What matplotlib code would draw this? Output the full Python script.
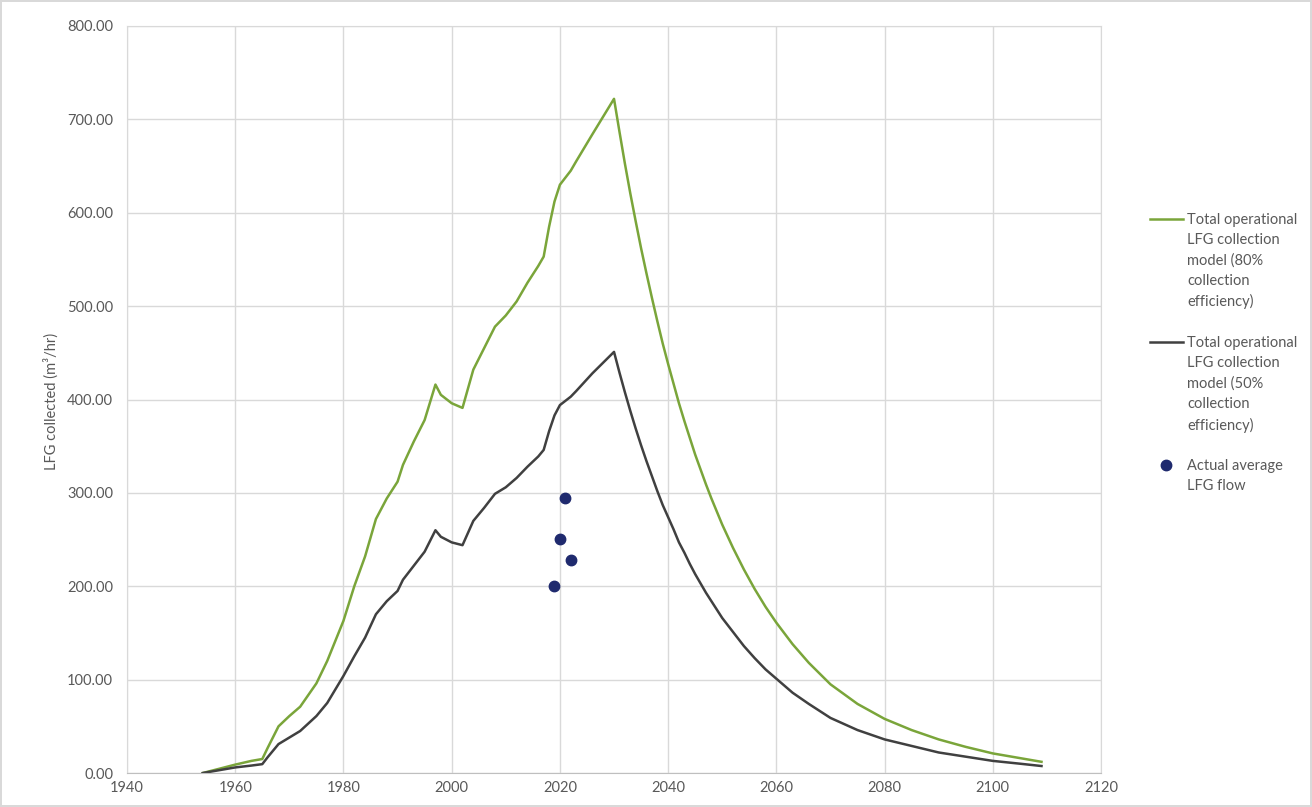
import numpy as np
import matplotlib.pyplot as plt
from matplotlib.lines import Line2D

# values (m3/hr)
years = [1954, 1956, 1958, 1960, 1963, 1965, 1966, 1968, 1970, 1972, 1975, 1977,
         1980, 1982, 1984, 1986, 1988, 1990, 1991, 1993, 1995, 1997, 1998, 2000,
         2002, 2004, 2006, 2008, 2010, 2012, 2014, 2016, 2017, 2018, 2019, 2020,
         2022, 2023, 2026, 2030, 2031, 2032, 2033, 2034, 2035, 2036, 2037, 2038,
         2039, 2040, 2041, 2042, 2043, 2044, 2045, 2046, 2047, 2048, 2049, 2050,
         2052, 2054, 2056, 2058, 2060, 2063, 2066, 2070, 2075, 2080, 2085, 2090,
         2095, 2100, 2105, 2109]
eff80 = [0, 3, 6, 9, 13, 15, 27, 50, 61, 71, 96, 120,
         163, 200, 232, 272, 294, 312, 330, 355, 378, 416, 405, 396,
         391, 432, 455, 478, 490, 505, 525, 543, 553, 585, 612, 630,
         645, 655, 684, 722, 687, 653, 621, 591, 562, 535, 509, 484,
         460, 438, 417, 396, 377, 359, 341, 325, 309, 294, 280, 266,
         241, 218, 197, 178, 161, 138, 118, 95, 74, 58, 46, 36,
         28, 21, 16, 12]
eff50 = [0, 2, 4, 6, 8, 9.5, 17, 31, 38, 45, 61, 75,
         104, 125, 145, 170, 184, 195, 207, 222, 237, 260, 253, 247,
         244, 270, 284, 299, 306, 316, 328, 339, 346, 366, 383, 394,
         403, 409, 428, 451, 429, 408, 388, 369, 351, 334, 318, 302,
         287, 274, 261, 247, 236, 224, 213, 203, 193, 184, 175, 166,
         151, 136, 123, 111, 101, 86, 74, 59, 46, 36, 29, 22,
         17.5, 13, 10, 7.5]
actual_years = [2019, 2020, 2021, 2022]
actual_flow = [200, 251, 294, 228]

xticks = np.arange(1940, 2121, 20)
yticks = np.arange(0, 801, 100)

plt.rcParams['font.family'] = ['Lato', 'DejaVu Sans']

fig = plt.figure(figsize=(13.12, 8.07), dpi=100)
fig.patch.set_edgecolor('#d9d9d9')
fig.patch.set_linewidth(1.5)
ax = fig.add_axes([0.0968, 0.0421, 0.7424, 0.9257])

green = '#7aa53a'
dark = '#404040'
navy = '#1f2a6e'
txt = '#595959'

l80, = ax.plot(years, eff80, color=green, lw=1.8)
l50, = ax.plot(years, eff50, color=dark, lw=1.8)
pts, = ax.plot(actual_years, actual_flow, 'o', color=navy, ms=7.5, ls='none')

ax.set_xlim(1940, 2120)
ax.set_ylim(0, 800)
ax.set_xticks(xticks)
ax.set_yticks(yticks)
ax.set_yticklabels(['%.2f' % v for v in yticks])
ax.tick_params(length=0, colors=txt, labelsize=10.5)
ax.tick_params(axis='y', pad=10)
ax.tick_params(axis='x', pad=6)
ax.grid(True, color='#d9d9d9', lw=1)
ax.set_axisbelow(True)
for s in ['left', 'right', 'top']:
    ax.spines[s].set_color('#d9d9d9')
ax.spines['bottom'].set_color('#bfbfbf')

fig.text(51 / 1312, 1 - 401 / 807, 'LFG collected (m³/hr)', rotation=90,
         ha='center', va='center', color=txt, fontsize=10.5)

# legend: one entry per text line so the key sits on the first line
blank = Line2D([], [], color='none')
handles = [l80, blank, blank, blank, blank, blank,
           l50, blank, blank, blank, blank, blank,
           pts, blank]
labels = ['Total operational', 'LFG collection', 'model (80%', 'collection', 'efficiency)', '',
          'Total operational', 'LFG collection', 'model (50%', 'collection', 'efficiency)', '',
          'Actual average', 'LFG flow']
fig.legend(handles, labels, loc='upper left', bbox_to_anchor=(1150 / 1312, 1 - 213 / 807),
           frameon=False, fontsize=10.5, labelcolor=txt, handlelength=2.26,
           handletextpad=0.27, labelspacing=0.43, borderpad=0, borderaxespad=0)

fig.savefig('out.png', dpi=100)
